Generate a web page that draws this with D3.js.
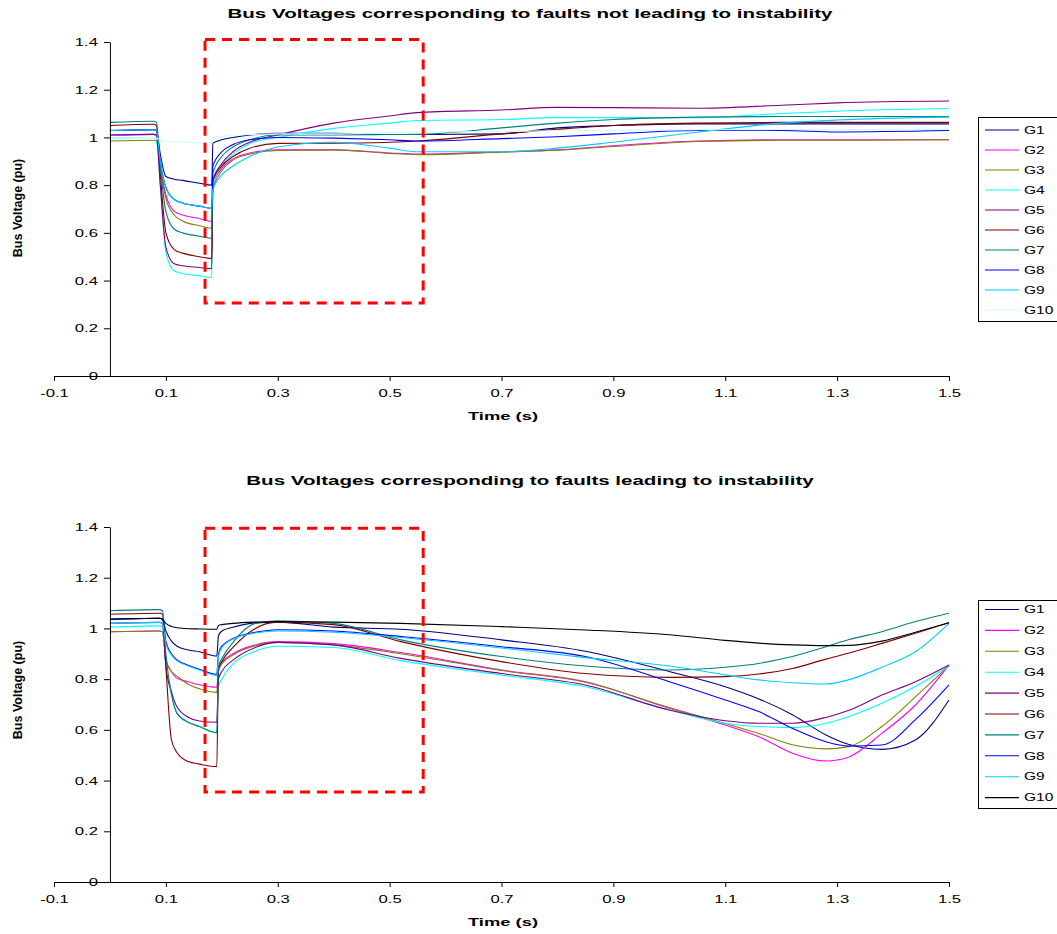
<!DOCTYPE html>
<html>
<head>
<meta charset="utf-8">
<script src="https://cdn.jsdelivr.net/npm/d3@7"></script>
<style>
  html, body { margin: 0; padding: 0; background: #fff; }
  svg { display: block; }
  text { font-family: "Liberation Sans", Arial, sans-serif; fill: #000; }
</style>
</head>
<body>
<svg id="chart" width="1057" height="934"></svg>
<script>
// ---- Series names, colours, ticks ----
const seriesNames = ["G1", "G2", "G3", "G4", "G5", "G6", "G7", "G8", "G9", "G10"];
const topColors = ["#000080", "#FF00FF", "#808000", "#00FFFF", "#800080", "#800000", "#008080", "#0000FF", "#00CCFF", "#CCFFFF"];
const bottomColors = ["#000080", "#FF00FF", "#808000", "#00FFFF", "#800080", "#800000", "#008080", "#0000FF", "#00CCFF", "#000000"];
const xTickValues = [-0.1, 0.1, 0.3, 0.5, 0.7, 0.9, 1.1, 1.3, 1.5];
const xTickLabels = ["-0.1", "0.1", "0.3", "0.5", "0.7", "0.9", "1.1", "1.3", "1.5"];
const yTickValues = [0, 0.2, 0.4, 0.6, 0.8, 1.0, 1.2, 1.4];
const yTickLabels = ["0", "0.2", "0.4", "0.6", "0.8", "1", "1.2", "1.4"];

// ---- Faults not leading to instability (time in s, voltage in pu) ----
const topTime = [0, 0.078, 0.083, 0.09, 0.1, 0.115, 0.13, 0.16, 0.182, 0.184, 0.2, 0.22, 0.25, 0.3, 0.4, 0.5, 0.55, 0.7, 0.8, 0.9, 1.05, 1.2, 1.3, 1.5];
const topG1  = [1.029, 1.032, 1.03, 0.93, 0.836, 0.825, 0.82, 0.808, 0.80, 0.976, 0.99, 1.0, 1.01, 1.017, 1.017, 1.012, 1.012, 1.015, 1.04, 1.05, 1.057, 1.057, 1.057, 1.057];
const topG2  = [1.01, 1.013, 1.01, 0.88, 0.76, 0.69, 0.675, 0.66, 0.648, 0.80, 0.87, 0.91, 0.935, 0.948, 0.948, 0.935, 0.93, 0.94, 0.948, 0.965, 0.985, 0.99, 0.99, 0.99];
const topG3  = [0.985, 0.988, 0.985, 0.87, 0.745, 0.675, 0.65, 0.63, 0.62, 0.78, 0.86, 0.905, 0.93, 0.945, 0.948, 0.933, 0.928, 0.938, 0.946, 0.962, 0.983, 0.988, 0.988, 0.99];
const topG4  = [0.997, 1.0, 0.997, 0.8, 0.52, 0.44, 0.43, 0.42, 0.413, 0.80, 0.88, 0.93, 0.975, 1.0, 1.038, 1.06, 1.071, 1.075, 1.083, 1.083, 1.083, 1.1, 1.11, 1.121];
const topG5  = [1.01, 1.013, 1.01, 0.8, 0.54, 0.47, 0.462, 0.455, 0.45, 0.82, 0.89, 0.94, 0.98, 1.01, 1.06, 1.09, 1.104, 1.115, 1.126, 1.125, 1.122, 1.135, 1.145, 1.153];
const topG6  = [1.05, 1.055, 1.05, 0.85, 0.6, 0.53, 0.515, 0.5, 0.493, 0.82, 0.88, 0.92, 0.955, 0.975, 0.976, 0.98, 0.985, 1.015, 1.034, 1.05, 1.06, 1.063, 1.063, 1.063];
const topG7  = [1.063, 1.068, 1.063, 0.88, 0.69, 0.615, 0.6, 0.586, 0.577, 0.85, 0.92, 0.96, 0.99, 1.01, 1.01, 1.012, 1.013, 1.04, 1.06, 1.075, 1.085, 1.088, 1.088, 1.088];
const topG8  = [1.029, 1.032, 1.029, 0.9, 0.79, 0.74, 0.725, 0.712, 0.703, 0.88, 0.94, 0.97, 0.99, 1.0, 0.997, 0.99, 0.985, 0.995, 1.003, 1.015, 1.029, 1.029, 1.023, 1.029];
const topG9  = [1.029, 1.032, 1.029, 0.9, 0.79, 0.74, 0.725, 0.712, 0.703, 0.78, 0.843, 0.88, 0.92, 0.96, 0.98, 0.955, 0.94, 0.94, 0.955, 0.98, 1.022, 1.06, 1.073, 1.085];
const topG10 = [0.997, 1.0, 0.997, 0.99, 0.985, 0.982, 0.98, 0.978, 0.975, 1.0, 1.005, 1.01, 1.012, 1.015, 1.015, 1.02, 1.022, 1.025, 1.028, 1.03, 1.032, 1.033, 1.033, 1.035];

// ---- Faults leading to instability ----
const botTime = [0, 0.088, 0.094, 0.1, 0.11, 0.12, 0.14, 0.16, 0.191, 0.194, 0.2, 0.22, 0.26, 0.3, 0.4, 0.52, 0.7, 0.85, 1.0, 1.1, 1.16, 1.22, 1.28, 1.32, 1.38, 1.44, 1.5];
const botG1  = [1.036, 1.04, 1.036, 0.99, 0.95, 0.93, 0.915, 0.908, 0.891, 0.97, 0.99, 1.005, 1.022, 1.025, 1.005, 0.997, 0.955, 0.91, 0.83, 0.77, 0.722, 0.66, 0.58, 0.543, 0.523, 0.56, 0.718];
const botG2  = [0.987, 0.99, 0.987, 0.88, 0.83, 0.803, 0.79, 0.778, 0.768, 0.84, 0.865, 0.9, 0.935, 0.948, 0.94, 0.905, 0.836, 0.79, 0.685, 0.619, 0.573, 0.508, 0.477, 0.492, 0.586, 0.698, 0.856];
const botG3  = [0.987, 0.99, 0.987, 0.87, 0.83, 0.812, 0.78, 0.762, 0.748, 0.83, 0.86, 0.895, 0.932, 0.945, 0.935, 0.9, 0.834, 0.788, 0.688, 0.625, 0.586, 0.541, 0.525, 0.534, 0.613, 0.73, 0.853];
const botG4  = [1.005, 1.01, 1.005, 0.85, 0.74, 0.665, 0.63, 0.613, 0.589, 0.77, 0.8, 0.86, 0.91, 0.93, 0.925, 0.873, 0.816, 0.77, 0.678, 0.626, 0.613, 0.609, 0.626, 0.652, 0.705, 0.771, 0.853];
const botG5  = [1.02, 1.024, 1.02, 0.85, 0.75, 0.69, 0.65, 0.635, 0.63, 0.8, 0.83, 0.875, 0.925, 0.945, 0.935, 0.882, 0.822, 0.777, 0.678, 0.636, 0.626, 0.626, 0.649, 0.676, 0.737, 0.79, 0.856];
const botG6  = [1.056, 1.06, 1.056, 0.85, 0.56, 0.51, 0.475, 0.465, 0.455, 0.84, 0.87, 0.925, 1.0, 1.025, 1.015, 0.948, 0.869, 0.822, 0.807, 0.81, 0.82, 0.842, 0.879, 0.902, 0.941, 0.981, 1.023];
const botG7  = [1.07, 1.074, 1.07, 0.9, 0.74, 0.665, 0.63, 0.613, 0.589, 0.85, 0.88, 0.945, 1.02, 1.03, 1.02, 0.955, 0.889, 0.852, 0.836, 0.847, 0.862, 0.889, 0.928, 0.955, 0.987, 1.027, 1.06];
const botG8  = [1.036, 1.04, 1.036, 0.95, 0.9, 0.876, 0.855, 0.839, 0.819, 0.9, 0.93, 0.96, 0.985, 0.995, 0.99, 0.968, 0.928, 0.889, 0.79, 0.718, 0.672, 0.606, 0.553, 0.536, 0.54, 0.64, 0.777];
const botG9  = [1.02, 1.024, 1.02, 0.94, 0.895, 0.872, 0.852, 0.836, 0.815, 0.89, 0.925, 0.958, 0.982, 0.99, 0.985, 0.964, 0.923, 0.885, 0.852, 0.817, 0.797, 0.786, 0.781, 0.797, 0.847, 0.908, 1.02];
const botG10 = [1.036, 1.04, 1.036, 1.02, 1.008, 1.003, 0.999, 0.998, 0.997, 1.012, 1.015, 1.02, 1.025, 1.027, 1.025, 1.02, 1.007, 0.994, 0.975, 0.953, 0.942, 0.935, 0.932, 0.933, 0.95, 0.985, 1.022];

// ---- Highlighted window (dashed box) ----
const boxTime = [0.17, 0.56];
const boxTopVolt = [0.306, 1.41];
const boxBotVolt = [0.355, 1.395];

// ---- Drawing ----
const svg = d3.select("#chart");
const TX = 1.45;          // horizontal stretch applied to tick labels
const xRange = [54, 949];
const FONT = '"Liberation Sans", Arial, sans-serif';

function stretchedText(g, x, y, str, opts) {
  const t = g.append("g").attr("transform", `translate(${x},${y}) scale(${opts.sx || TX},1)` + (opts.rotate ? ` rotate(${opts.rotate})` : ""));
  t.append("text")
    .attr("text-anchor", opts.anchor || "middle")
    .attr("dominant-baseline", "central")
    .attr("font-size", opts.size)
    .attr("font-weight", opts.bold ? "bold" : "normal")
    .text(str);
}

function drawPanel(cfg) {
  const x = d3.scaleLinear().domain([-0.1, 1.5]).range(xRange);
  const y = d3.scaleLinear().domain([0, 1.4]).range([cfg.y0, cfg.y14]);
  const g = svg.append("g");

  // title
  stretchedText(g, 530, cfg.titleY, cfg.title, { size: 13, bold: true, sx: 1.58 });

  // voltage traces
  const line = d3.line().x(d => x(d[0])).y(d => y(d[1])).curve(d3.curveMonotoneX);
  cfg.series.forEach((vals, i) => {
    const pts = cfg.time.map((t, k) => [t, vals[k]]);
    g.append("path")
      .attr("d", line(pts))
      .attr("fill", "none")
      .attr("stroke", cfg.colors[i])
      .attr("stroke-width", 1.1)
      .attr("stroke-linejoin", "round");
  });

  // x axis
  const xAxis = d3.axisBottom(x).tickValues(xTickValues)
    .tickFormat((d, i) => xTickLabels[i]).tickSize(5).tickSizeOuter(0).tickPadding(8);
  const gx = g.append("g").attr("transform", `translate(0,${y(0)})`).call(xAxis);
  gx.selectAll("text").attr("font-size", 11.5).attr("transform", `scale(${TX},1)`).attr("x", 0);

  // y axis
  const yAxis = d3.axisLeft(y).tickValues(yTickValues)
    .tickFormat((d, i) => yTickLabels[i]).tickSize(6).tickSizeOuter(0).tickPadding(6);
  const gy = g.append("g").attr("transform", `translate(${x(0)},0)`).call(yAxis);
  gy.selectAll("text").attr("font-size", 11.5)
    .attr("transform", `scale(${TX},1)`).attr("x", -12 / TX);

  [gx, gy].forEach(a => {
    a.selectAll("path, line").attr("stroke", "#000").attr("stroke-width", 1);
    a.selectAll("text").attr("fill", "#000").style("font-family", FONT);
  });

  // axis titles
  stretchedText(g, 503, cfg.xTitleY, "Time (s)", { size: 11.5, bold: true, sx: 1.6 });
  stretchedText(g, 18, cfg.yTitleY, "Bus Voltage (pu)", { size: 12.5, bold: true, sx: 1.0, rotate: -90 });

  // dashed box
  g.append("rect")
    .attr("x", x(boxTime[0])).attr("y", y(cfg.box[1]))
    .attr("width", x(boxTime[1]) - x(boxTime[0]))
    .attr("height", y(cfg.box[0]) - y(cfg.box[1]))
    .attr("fill", "none").attr("stroke", "#FF0000")
    .attr("stroke-width", 3).attr("stroke-dasharray", "10,7");

  // legend
  const lg = g.append("g");
  lg.append("rect").attr("x", 978.5).attr("y", cfg.legTop + 0.5)
    .attr("width", 100).attr("height", cfg.legH)
    .attr("fill", "#fff").attr("stroke", "#000").attr("stroke-width", 1);
  seriesNames.forEach((name, i) => {
    const yy = cfg.legFirst + i * cfg.legStep;
    lg.append("line").attr("x1", 985).attr("x2", 1019).attr("y1", yy).attr("y2", yy)
      .attr("stroke", cfg.colors[i]).attr("stroke-width", 1.1);
    stretchedText(lg, 1024, yy, name, { size: 11.5, anchor: "start", sx: 1.35 });
  });
}

drawPanel({
  title: "Bus Voltages corresponding to faults not leading to instability",
  titleY: 13, y0: 376, y14: 42, xTitleY: 416, yTitleY: 208,
  time: topTime,
  series: [topG1, topG2, topG3, topG4, topG5, topG6, topG7, topG8, topG9, topG10],
  colors: topColors, box: boxTopVolt,
  legTop: 117, legH: 204, legFirst: 130, legStep: 20
});

drawPanel({
  title: "Bus Voltages corresponding to faults leading to instability",
  titleY: 480, y0: 882, y14: 527, xTitleY: 922, yTitleY: 690,
  time: botTime,
  series: [botG1, botG2, botG3, botG4, botG5, botG6, botG7, botG8, botG9, botG10],
  colors: bottomColors, box: boxBotVolt,
  legTop: 600, legH: 208, legFirst: 609.5, legStep: 20.9
});
</script>
</body>
</html>
